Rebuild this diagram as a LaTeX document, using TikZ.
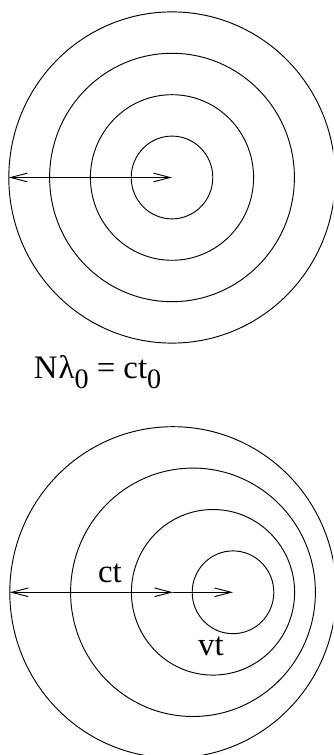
\documentclass[tikz,border=0pt]{standalone}
\usepackage{fontspec}
\setmainfont{Liberation Serif}
\usetikzlibrary{arrows.meta,calc}

\begin{document}
\begin{tikzpicture}[
    x=0.03cm, y=0.03cm,
    line cap=round,
    line join=round,
    front/.style={line width=0.8pt},
    ray/.style={line width=0.8pt, -{Straight Barb[length=5mm, width=2.6mm]}},
    bothray/.style={line width=0.8pt,
      {Straight Barb[length=5mm, width=2.6mm]}-{Straight Barb[length=5mm, width=2.6mm]}},
    lbl/.style={font=\fontsize{28}{32}\selectfont, inner sep=0pt, anchor=base}
  ]

% common wavefront spacing so both panels use the same radii
\def\rx{40.8}
\def\ry{41.4}
\newcommand{\low}[1]{\raisebox{-0.3em}{\fontsize{24}{24}\selectfont #1}}

\useasboundingbox (0,0) rectangle (333,755);
\clip (0,0) rectangle (333,755);

% ============================================================
% TOP PANEL: source at rest
% ============================================================
\begin{scope}[shift={(172,577.5)}]
  \coordinate (O0) at (0,0);
  \foreach \n in {1,...,4}
    \draw[front] (O0) ellipse[x radius=\n*\rx, y radius=\n*\ry];

  \coordinate (E0) at (-4*\rx,0);
  \draw[bothray] (E0) -- (O0);
\end{scope}

\node[lbl] (rest) at (97.5,376) {N\kern1ptλ\low{0} = ct\low{0}};

% ============================================================
% BOTTOM PANEL: moving source
% ============================================================
\begin{scope}[shift={(173,162.7)}]
  \coordinate (O1) at (0,0);
  \foreach \n in {1,...,4}
    \draw[front] ($(O1)+({20*(4-\n)},0)$) ellipse[x radius=\n*\rx, y radius=\n*\ry];

  \coordinate (E1) at (-4*\rx,0);
  \coordinate (S1) at (60,0);

  % light travel and source travel
  \draw[bothray] (E1) -- (O1);
  \draw[ray] (O1) -- (S1);
\end{scope}

\node[lbl] (ct) at (110,172) {ct};
\node[lbl] (vt) at (211,99) {vt};

\end{tikzpicture}
\end{document}
